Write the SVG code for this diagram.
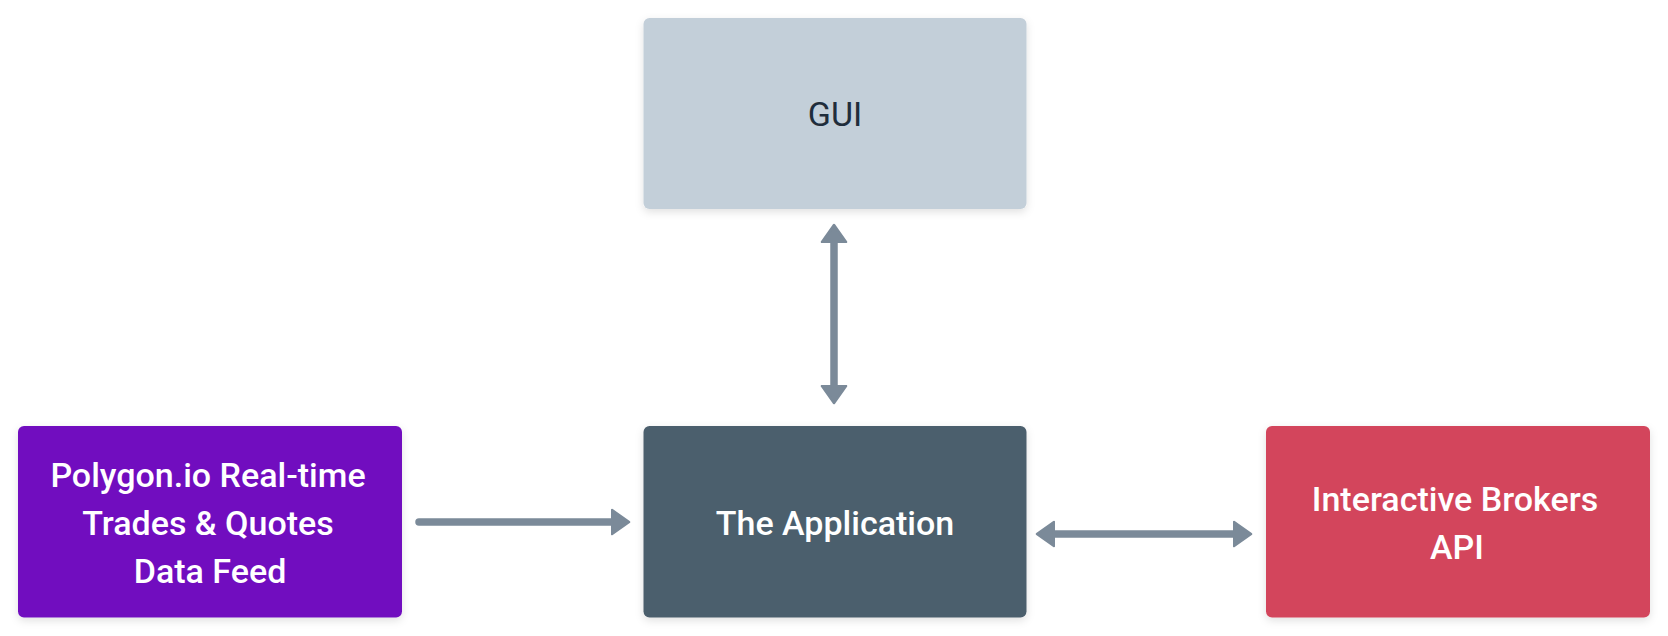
<svg xmlns="http://www.w3.org/2000/svg" width="1668" height="636" viewBox="0 0 1668 636">
  <defs>
    <filter id="shadow" x="-10%" y="-10%" width="120%" height="130%">
      <feDropShadow dx="0" dy="3" stdDeviation="4" flood-color="#000" flood-opacity="0.12"/>
    </filter>
    <marker id="head" viewBox="-1 -15 21 30" refX="0" refY="0" markerWidth="21" markerHeight="30" markerUnits="userSpaceOnUse" orient="auto-start-reverse">
      <path d="M0,-12 L17,0 L0,12 Z" fill="#7b8a99" stroke="#7b8a99" stroke-width="2.5" stroke-linejoin="round"/>
    </marker>
  </defs>
  <style>
    .box { filter: url(#shadow); }
    .lbl { font-family: Roboto, "Liberation Sans", Arial, sans-serif; font-size: 34px; font-weight: 500; text-anchor: middle; }
    .light { fill: #ffffff; }
    .dark { fill: #1f2d3b; font-weight: 400; }
    .conn { stroke: #7b8a99; stroke-width: 7.5; fill: none; }
  </style>
  <rect width="1668" height="636" fill="#ffffff"/>

  <g id="gui">
    <rect class="box" x="643.5" y="18" width="383" height="191" rx="6" fill="#c3cfd9"/>
    <text class="lbl dark" x="835" y="126">GUI</text>
  </g>

  <g id="polygon">
    <rect class="box" x="18" y="426" width="384" height="191.5" rx="6" fill="#7111bf"/>
    <text class="lbl light" x="208" y="487">Polygon.io Real-time</text>
    <text class="lbl light" x="208" y="535">Trades &amp; Quotes</text>
    <text class="lbl light" x="210" y="583">Data Feed</text>
  </g>

  <g id="app">
    <rect class="box" x="643.5" y="426" width="383" height="191.5" rx="6" fill="#4b5e6d"/>
    <text class="lbl light" x="835" y="535">The Application</text>
  </g>

  <g id="ib">
    <rect class="box" x="1266" y="426" width="384" height="191.5" rx="6" fill="#d3455b"/>
    <text class="lbl light" x="1455" y="511">Interactive Brokers</text>
    <text class="lbl light" x="1457" y="559">API</text>
  </g>

  <g id="connectors">
    <line class="conn" x1="419" y1="522" x2="612" y2="522" stroke-linecap="round" marker-end="url(#head)"/>
    <line class="conn" x1="1054" y1="534" x2="1234" y2="534" marker-start="url(#head)" marker-end="url(#head)"/>
    <line class="conn" x1="834" y1="242" x2="834" y2="386" marker-start="url(#head)" marker-end="url(#head)"/>
  </g>
</svg>
